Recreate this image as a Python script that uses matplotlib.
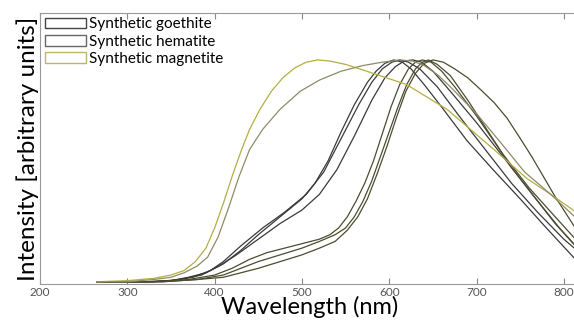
import matplotlib
matplotlib.use("Agg")
import matplotlib.pyplot as plt
from matplotlib.patches import Patch

plt.rcParams['font.family'] = ['Lato', 'DejaVu Sans']

# Goethite spectra (wavelength nm, normalised intensity)
g1_nm = [265, 320, 350, 370, 390, 410, 430, 450, 475, 500, 515, 530, 545, 560, 575, 585, 595, 605, 615, 625, 640, 660, 689, 719, 750, 780, 818]
g1_val = [0.01, 0.01, 0.015, 0.03, 0.05, 0.09, 0.15, 0.22, 0.30, 0.38, 0.45, 0.55, 0.68, 0.80, 0.90, 0.95, 0.985, 1.00, 0.99, 0.96, 0.89, 0.79, 0.64, 0.51, 0.38, 0.25, 0.09]

g2_nm = [265, 320, 350, 375, 395, 410, 430, 455, 480, 505, 525, 545, 565, 580, 592, 603, 612, 622, 635, 655, 680, 710, 740, 770, 800, 818]
g2_val = [0.01, 0.01, 0.015, 0.03, 0.06, 0.10, 0.17, 0.25, 0.32, 0.40, 0.50, 0.65, 0.80, 0.90, 0.96, 0.99, 1.00, 0.99, 0.96, 0.88, 0.75, 0.60, 0.45, 0.32, 0.20, 0.14]

g3_nm = [265, 330, 360, 385, 405, 425, 450, 475, 500, 520, 540, 560, 580, 595, 607, 617, 627, 637, 650, 670, 700, 730, 760, 790, 818]
g3_val = [0.01, 0.01, 0.02, 0.04, 0.08, 0.13, 0.20, 0.27, 0.33, 0.40, 0.51, 0.66, 0.82, 0.92, 0.97, 0.995, 1.00, 0.99, 0.95, 0.86, 0.72, 0.57, 0.42, 0.27, 0.15]

# Hematite spectra
h1_nm = [265, 330, 370, 400, 420, 440, 460, 480, 500, 520, 532, 542, 552, 562, 572, 582, 592, 602, 612, 622, 630, 638, 648, 660, 675, 700, 730, 760, 790, 818]
h1_val = [0.01, 0.01, 0.02, 0.04, 0.07, 0.11, 0.14, 0.16, 0.18, 0.20, 0.22, 0.25, 0.30, 0.37, 0.45, 0.55, 0.67, 0.79, 0.89, 0.96, 0.99, 1.00, 0.99, 0.95, 0.88, 0.75, 0.58, 0.43, 0.30, 0.18]

h2_nm = [265, 340, 380, 410, 430, 450, 475, 500, 520, 538, 550, 560, 570, 580, 590, 600, 610, 620, 630, 638, 645, 655, 670, 690, 710, 740, 770, 795, 818]
h2_val = [0.01, 0.01, 0.02, 0.04, 0.07, 0.10, 0.13, 0.16, 0.19, 0.22, 0.25, 0.30, 0.37, 0.46, 0.57, 0.68, 0.79, 0.89, 0.96, 0.99, 1.00, 0.98, 0.93, 0.82, 0.70, 0.52, 0.37, 0.25, 0.15]

h3_nm = [265, 340, 380, 410, 430, 450, 475, 500, 520, 538, 552, 564, 575, 586, 597, 608, 619, 630, 640, 650, 662, 675, 690, 704, 720, 735, 750, 763, 775, 790, 818]
h3_val = [0.01, 0.01, 0.02, 0.03, 0.05, 0.07, 0.10, 0.13, 0.16, 0.19, 0.24, 0.30, 0.38, 0.49, 0.61, 0.74, 0.86, 0.94, 0.985, 1.00, 0.99, 0.96, 0.92, 0.87, 0.81, 0.74, 0.65, 0.57, 0.49, 0.39, 0.22]

# Magnetite spectra
m1_nm = [265, 300, 330, 350, 365, 378, 390, 400, 410, 420, 430, 440, 452, 465, 478, 492, 505, 518, 532, 550, 570, 597, 620, 645, 666, 690, 720, 758, 785, 818]
m1_val = [0.01, 0.015, 0.025, 0.04, 0.06, 0.10, 0.16, 0.25, 0.36, 0.48, 0.59, 0.69, 0.78, 0.86, 0.92, 0.965, 0.99, 1.00, 0.995, 0.98, 0.955, 0.92, 0.89, 0.83, 0.78, 0.70, 0.60, 0.47, 0.40, 0.31]

m2_nm = [265, 300, 330, 350, 365, 380, 392, 404, 416, 428, 440, 455, 475, 498, 520, 545, 570, 592, 612, 627, 640, 655, 670, 700, 730, 755, 785, 818]
m2_val = [0.01, 0.01, 0.02, 0.03, 0.05, 0.08, 0.12, 0.21, 0.34, 0.48, 0.60, 0.69, 0.78, 0.86, 0.91, 0.95, 0.975, 0.99, 1.00, 0.995, 0.975, 0.935, 0.88, 0.76, 0.62, 0.50, 0.40, 0.28]

x_ticks = [200, 300, 400, 500, 600, 700, 800]

goethite_color = '#3a3a3a'
hematite_color = '#4c4c30'
magnetite_colors = ['#b5ae45', '#8e8c66']

fig = plt.figure(figsize=(5.74, 3.22), dpi=100)
ax = fig.add_axes([0.0697, 0.118, 0.94, 0.842])

for nm, val in [(g1_nm, g1_val), (g2_nm, g2_val), (g3_nm, g3_val)]:
    ax.plot(nm, val, color=goethite_color, linewidth=0.9)
for nm, val in [(h1_nm, h1_val), (h2_nm, h2_val), (h3_nm, h3_val)]:
    ax.plot(nm, val, color=hematite_color, linewidth=0.9)
ax.plot(m1_nm, m1_val, color=magnetite_colors[0], linewidth=0.9)
ax.plot(m2_nm, m2_val, color=magnetite_colors[1], linewidth=0.9)

ax.set_xlim(200, 818)
ax.set_ylim(0, 1.21)
ax.set_xticks(x_ticks)
ax.set_yticks([])
ax.tick_params(axis='x', direction='in', top=True, length=4, color='#888888',
               labelsize=8.5, labelcolor='#555555', pad=2)
for side in ['left', 'bottom', 'top']:
    ax.spines[side].set_color('#999999')
    ax.spines[side].set_linewidth(0.8)
ax.spines['right'].set_visible(False)

ax.set_xlabel('Wavelength (nm)', fontsize=17, labelpad=-1)
ax.set_ylabel('Intensity [arbitrary units]', fontsize=17.5, labelpad=1)

handles = [
    Patch(facecolor='none', edgecolor='#444444', label='Synthetic goethite'),
    Patch(facecolor='none', edgecolor='#666666', label='Synthetic hematite'),
    Patch(facecolor='none', edgecolor='#bdb56a', label='Synthetic magnetite'),
]
ax.legend(handles=handles, loc='upper left', bbox_to_anchor=(0.0, 1.0),
          frameon=False, fontsize=11, handlelength=2.7, handleheight=0.7,
          handletextpad=0.2, labelspacing=0.2, borderpad=0.3, borderaxespad=0.0)

fig.savefig('out.png', dpi=100)
